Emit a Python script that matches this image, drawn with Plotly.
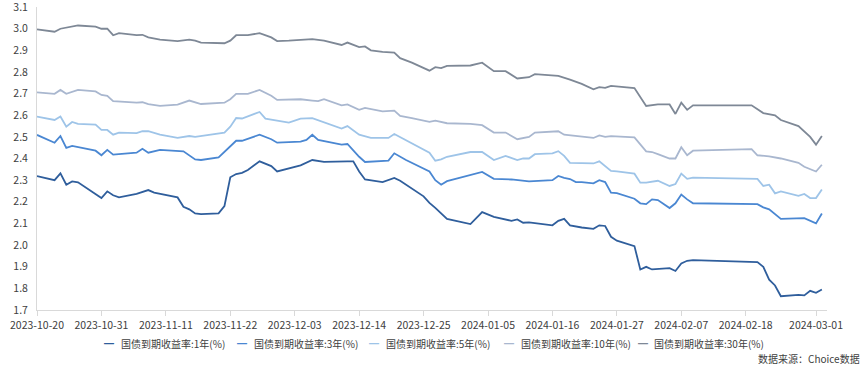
import plotly.graph_objects as go

series_names = ["国债到期收益率:1年(%)", "国债到期收益率:3年(%)", "国债到期收益率:5年(%)",
                "国债到期收益率:10年(%)", "国债到期收益率:30年(%)"]
series_colors = ["#2F5E9C", "#4A87D2", "#9EC4E8", "#A9B7CF", "#7E8896"]

dates_1y = ["2023-10-20","2023-10-23","2023-10-24","2023-10-25","2023-10-26","2023-10-27","2023-10-31",
    "2023-11-01","2023-11-02","2023-11-03","2023-11-06","2023-11-08","2023-11-09","2023-11-13","2023-11-14",
    "2023-11-15","2023-11-16","2023-11-17","2023-11-20","2023-11-21","2023-11-22","2023-11-23","2023-11-24",
    "2023-11-25","2023-11-27","2023-11-29","2023-11-30","2023-12-02","2023-12-04","2023-12-06","2023-12-08",
    "2023-12-12","2023-12-13","2023-12-14","2023-12-15","2023-12-18","2023-12-20","2023-12-21","2023-12-25",
    "2023-12-26","2023-12-27","2023-12-29","2024-01-02","2024-01-04","2024-01-06","2024-01-09","2024-01-10",
    "2024-01-11","2024-01-12","2024-01-16","2024-01-17","2024-01-18","2024-01-19","2024-01-21","2024-01-23",
    "2024-01-24","2024-01-25","2024-01-26","2024-01-27","2024-01-30","2024-01-31","2024-02-01","2024-02-02",
    "2024-02-05","2024-02-06","2024-02-07","2024-02-08","2024-02-09","2024-02-20","2024-02-21","2024-02-22",
    "2024-02-23","2024-02-24","2024-02-27","2024-02-28","2024-02-29","2024-03-01","2024-03-02"]
yield_1y = [2.319,2.300,2.331,2.279,2.294,2.290,2.217,
    2.248,2.230,2.220,2.236,2.254,2.242,2.220,2.177,
    2.165,2.146,2.143,2.146,2.180,2.313,2.328,2.334,
    2.347,2.387,2.365,2.340,2.353,2.368,2.393,2.384,
    2.387,2.387,2.340,2.303,2.291,2.310,2.297,2.225,
    2.195,2.172,2.121,2.097,2.152,2.130,2.112,2.118,
    2.103,2.105,2.091,2.112,2.121,2.091,2.081,2.075,
    2.091,2.088,2.038,2.020,1.995,1.887,1.899,1.887,
    1.893,1.880,1.915,1.927,1.930,1.921,1.899,1.840,
    1.813,1.763,1.769,1.767,1.788,1.779,1.794]

dates_3y = ["2023-10-20","2023-10-23","2023-10-24","2023-10-25","2023-10-26","2023-10-30","2023-10-31",
    "2023-11-01","2023-11-02","2023-11-06","2023-11-07","2023-11-08","2023-11-10","2023-11-14","2023-11-16",
    "2023-11-17","2023-11-20","2023-11-22","2023-11-23","2023-11-24","2023-11-27","2023-11-29","2023-11-30",
    "2023-12-04","2023-12-05","2023-12-06","2023-12-07","2023-12-11","2023-12-12","2023-12-14","2023-12-15",
    "2023-12-19","2023-12-20","2023-12-22","2023-12-26","2023-12-27","2023-12-28","2023-12-29","2024-01-02",
    "2024-01-04","2024-01-06","2024-01-09","2024-01-12","2024-01-16","2024-01-17","2024-01-18","2024-01-19",
    "2024-01-20","2024-01-21","2024-01-23","2024-01-24","2024-01-25","2024-01-26","2024-01-27","2024-01-30",
    "2024-01-31","2024-02-01","2024-02-02","2024-02-03","2024-02-05","2024-02-06","2024-02-07","2024-02-08",
    "2024-02-09","2024-02-20","2024-02-21","2024-02-22","2024-02-24","2024-02-28","2024-02-29","2024-03-01",
    "2024-03-02"]
yield_3y = [2.509,2.473,2.504,2.449,2.458,2.436,2.415,
    2.440,2.418,2.427,2.445,2.427,2.440,2.433,2.396,
    2.393,2.405,2.455,2.482,2.482,2.510,2.489,2.473,
    2.478,2.486,2.510,2.486,2.464,2.467,2.408,2.384,
    2.390,2.424,2.393,2.340,2.300,2.279,2.295,2.325,
    2.338,2.306,2.303,2.294,2.300,2.319,2.310,2.305,
    2.291,2.291,2.285,2.300,2.291,2.242,2.240,2.214,
    2.193,2.189,2.211,2.208,2.171,2.193,2.233,2.211,
    2.193,2.189,2.174,2.165,2.121,2.124,2.112,2.100,
    2.146]

dates_5y = ["2023-10-20","2023-10-23","2023-10-24","2023-10-25","2023-10-26","2023-10-27","2023-10-30",
    "2023-10-31","2023-11-01","2023-11-02","2023-11-03","2023-11-06","2023-11-07","2023-11-08","2023-11-10",
    "2023-11-13","2023-11-15","2023-11-16","2023-11-21","2023-11-22","2023-11-23","2023-11-24","2023-11-27",
    "2023-11-28","2023-12-02","2023-12-04","2023-12-06","2023-12-11","2023-12-12","2023-12-14","2023-12-16",
    "2023-12-19","2023-12-20","2023-12-26","2023-12-27","2023-12-28","2023-12-29","2024-01-02","2024-01-04",
    "2024-01-06","2024-01-08","2024-01-10","2024-01-11","2024-01-12","2024-01-13","2024-01-16","2024-01-17",
    "2024-01-18","2024-01-19","2024-01-23","2024-01-24","2024-01-26","2024-01-27","2024-01-30","2024-01-31",
    "2024-02-01","2024-02-03","2024-02-05","2024-02-06","2024-02-07","2024-02-08","2024-02-09","2024-02-20",
    "2024-02-21","2024-02-22","2024-02-23","2024-02-24","2024-02-27","2024-02-28","2024-02-29","2024-03-01",
    "2024-03-02"]
yield_5y = [2.594,2.578,2.594,2.547,2.569,2.560,2.557,
    2.532,2.532,2.510,2.520,2.517,2.526,2.526,2.510,
    2.495,2.504,2.500,2.520,2.547,2.587,2.585,2.615,
    2.584,2.566,2.584,2.587,2.538,2.550,2.510,2.495,
    2.495,2.513,2.427,2.390,2.396,2.408,2.430,2.430,
    2.393,2.412,2.393,2.400,2.400,2.420,2.424,2.434,
    2.412,2.380,2.377,2.387,2.343,2.340,2.330,2.288,
    2.288,2.297,2.273,2.282,2.330,2.306,2.312,2.306,
    2.273,2.279,2.239,2.248,2.227,2.236,2.217,2.217,
    2.257]

dates_10y = ["2023-10-20","2023-10-23","2023-10-24","2023-10-25","2023-10-27","2023-10-30","2023-10-31",
    "2023-11-01","2023-11-02","2023-11-06","2023-11-07","2023-11-08","2023-11-10","2023-11-13","2023-11-15",
    "2023-11-17","2023-11-21","2023-11-22","2023-11-23","2023-11-25","2023-11-27","2023-11-29","2023-11-30",
    "2023-12-04","2023-12-06","2023-12-07","2023-12-08","2023-12-11","2023-12-12","2023-12-14","2023-12-15",
    "2023-12-18","2023-12-20","2023-12-21","2023-12-23","2023-12-26","2023-12-27","2023-12-29","2024-01-02",
    "2024-01-04","2024-01-06","2024-01-08","2024-01-10","2024-01-12","2024-01-13","2024-01-17","2024-01-18",
    "2024-01-21","2024-01-23","2024-01-24","2024-01-25","2024-01-26","2024-01-30","2024-02-01","2024-02-02",
    "2024-02-03","2024-02-05","2024-02-06","2024-02-07","2024-02-08","2024-02-09","2024-02-19","2024-02-20",
    "2024-02-22","2024-02-24","2024-02-27","2024-02-28","2024-03-01","2024-03-02"]
yield_10y = [2.706,2.699,2.717,2.699,2.717,2.710,2.694,
    2.690,2.665,2.658,2.660,2.651,2.643,2.649,2.668,
    2.652,2.658,2.674,2.699,2.699,2.717,2.690,2.671,
    2.674,2.668,2.665,2.674,2.646,2.650,2.625,2.634,
    2.618,2.621,2.597,2.587,2.569,2.575,2.563,2.560,
    2.554,2.520,2.520,2.489,2.500,2.520,2.526,2.510,
    2.500,2.495,2.507,2.500,2.503,2.498,2.433,2.430,
    2.420,2.400,2.400,2.452,2.415,2.436,2.443,2.415,
    2.410,2.400,2.380,2.362,2.340,2.371]

dates_30y = ["2023-10-20","2023-10-23","2023-10-24","2023-10-27","2023-10-30","2023-10-31","2023-11-01",
    "2023-11-02","2023-11-03","2023-11-06","2023-11-07","2023-11-08","2023-11-10","2023-11-13","2023-11-15",
    "2023-11-16","2023-11-17","2023-11-21","2023-11-22","2023-11-23","2023-11-25","2023-11-27","2023-11-29",
    "2023-11-30","2023-12-02","2023-12-04","2023-12-06","2023-12-08","2023-12-11","2023-12-12","2023-12-14",
    "2023-12-15","2023-12-16","2023-12-18","2023-12-20","2023-12-21","2023-12-23","2023-12-26","2023-12-27",
    "2023-12-28","2023-12-29","2024-01-02","2024-01-04","2024-01-06","2024-01-08","2024-01-10","2024-01-12",
    "2024-01-13","2024-01-17","2024-01-19","2024-01-21","2024-01-23","2024-01-24","2024-01-25","2024-01-26",
    "2024-01-30","2024-01-31","2024-02-01","2024-02-03","2024-02-05","2024-02-06","2024-02-07","2024-02-08",
    "2024-02-09","2024-02-19","2024-02-21","2024-02-23","2024-02-24","2024-02-27","2024-02-29","2024-03-01",
    "2024-03-02"]
yield_30y = [2.997,2.986,3.000,3.015,3.010,3.000,3.000,
    2.970,2.980,2.970,2.972,2.960,2.950,2.943,2.950,
    2.945,2.936,2.933,2.945,2.970,2.970,2.980,2.960,
    2.943,2.945,2.950,2.952,2.945,2.925,2.936,2.915,
    2.918,2.900,2.893,2.890,2.864,2.843,2.806,2.822,
    2.818,2.828,2.830,2.843,2.804,2.804,2.770,2.776,
    2.790,2.782,2.765,2.745,2.720,2.730,2.727,2.736,
    2.726,2.686,2.643,2.650,2.650,2.606,2.658,2.625,
    2.646,2.646,2.610,2.600,2.578,2.550,2.500,2.464,
    2.504]

tick_dates = ["2023-10-20","2023-10-31","2023-11-11","2023-11-22","2023-12-03","2023-12-14",
              "2023-12-25","2024-01-05","2024-01-16","2024-01-27","2024-02-07","2024-02-18","2024-03-01"]
y_ticks = [1.7,1.8,1.9,2.0,2.1,2.2,2.3,2.4,2.5,2.6,2.7,2.8,2.9,3.0,3.1]
source_text = "数据来源：Choice数据"

all_dates = [dates_1y, dates_3y, dates_5y, dates_10y, dates_30y]
all_vals = [yield_1y, yield_3y, yield_5y, yield_10y, yield_30y]

W, H = 865, 373
ML, MR, MT, MB = 37, 38, 7, 63
PW, PH = W - ML - MR, H - MT - MB

def px_x(p):
    return (p - ML) / PW

def px_y(p):
    return (H - MB - p) / PH

FONT = "Noto Sans CJK SC, Microsoft YaHei, sans-serif"
fig = go.Figure()
for name, color, xs, ys in zip(series_names, series_colors, all_dates, all_vals):
    fig.add_trace(go.Scatter(x=xs, y=ys, mode="lines", name=name, showlegend=False,
                             line=dict(color=color, width=1.8)))

fig.update_layout(
    width=W, height=H,
    margin=dict(l=ML, r=MR, t=MT, b=MB, autoexpand=False),
    paper_bgcolor="white", plot_bgcolor="white",
    font=dict(family=FONT, size=10.5, color="#404040"),
    showlegend=False,
    xaxis=dict(type="date", range=["2023-10-20", "2024-03-02 21:00"],
               tickvals=tick_dates, ticktext=tick_dates, automargin=False,
               showline=True, linecolor="#D9D9D9", linewidth=1,
               ticks="outside", ticklen=5, tickcolor="#D9D9D9",
               showgrid=False, zeroline=False, ticklabeloverflow="allow",
               tickfont=dict(size=10.5, color="#404040")),
    yaxis=dict(range=[1.6995, 3.1005], tickvals=y_ticks, tickformat=".1f", automargin=False,
               showline=True, linecolor="#D9D9D9", linewidth=1,
               showgrid=False, zeroline=False, ticks="", ticklabelstandoff=6,
               ticklabeloverflow="allow",
               tickfont=dict(size=10.5, color="#404040")),
)

# legend drawn as text entries (short line glyph + label), as in the reference
legend_sym_px = [103, 236, 368, 503, 637]
legend_txt_px = [120, 253, 385, 520, 653]
legend_y_px = 343
for name, color, sx, tx in zip(series_names, series_colors, legend_sym_px, legend_txt_px):
    fig.add_annotation(text="━", xref="paper", yref="paper", x=px_x(sx), y=px_y(legend_y_px),
                       xanchor="left", yanchor="middle", showarrow=False,
                       font=dict(size=10, color=color), borderpad=0)
    fig.add_annotation(text=name, xref="paper", yref="paper", x=px_x(tx), y=px_y(legend_y_px),
                       xanchor="left", yanchor="middle", showarrow=False,
                       font=dict(size=10, color="#404040"), borderpad=0)

fig.add_annotation(text=source_text, xref="paper", yref="paper", x=px_x(861), y=px_y(358),
                   xanchor="right", yanchor="middle", showarrow=False,
                   font=dict(size=10, color="#404040"), borderpad=0)
fig.write_html("out.html", config={"displayModeBar": False},
               post_script="document.body.style.margin='0';document.body.style.overflow='hidden';")
